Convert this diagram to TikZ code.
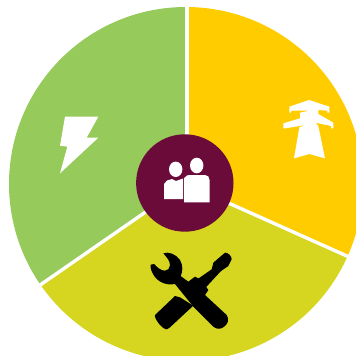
\documentclass[tikz,border=0pt]{standalone}
\definecolor{pgreen}{HTML}{96CA5A}
\definecolor{pyellow}{HTML}{FFCC00}
\definecolor{plime}{HTML}{D6D621}
\definecolor{pmaroon}{HTML}{6B0B3A}
\tikzset{spoke/.style={draw=white,line width=3.4pt},icon/.style={fill=white,draw=none},tool/.style={fill=black,draw=none},zoomed/.style={x=0.33333pt,y=-0.33333pt}}
\begin{document}
\begin{tikzpicture}[x=1pt,y=-1pt]
\useasboundingbox (0,0) rectangle (356,356);
\begin{scope}
\clip (0,0) rectangle (356,356);
\coordinate (c) at (186,184);
\def\rr{177}
\fill[pgreen] (c) -- ++(-90:\rr) arc[start angle=-90,end angle=-214.7,radius=\rr] -- cycle;
\fill[pyellow] (c) -- ++(-90:\rr) arc[start angle=-90,end angle=24.1,radius=\rr] -- cycle;
\fill[plime] (c) -- ++(24.1:\rr) arc[start angle=24.1,end angle=145.3,radius=\rr] -- cycle;
\draw[spoke] (187,184) -- (187,0);
\draw[spoke] (c) -- ++(24.1:182);
\draw[spoke] (c) -- ++(145.3:182);
\fill[pmaroon] (184.8,183) circle[radius=48.7];
% people
\fill[icon] (175.7,169.3) ellipse[x radius=6.7,y radius=7.7];
\fill[icon] (196.7,165.5) ellipse[x radius=6.7,y radius=7.8];
\fill[icon] (164,199) -- (164,184) -- (167,180.5) -- (172,179) -- (176,181) -- (183,178.5) -- (183,199) -- cycle;
\fill[icon] (184.2,202.3) -- (184.2,178) .. controls (186,175.2) and (188,175) .. (190,175) -- (205,175) .. controls (208,175) and (209.5,177) .. (209.5,180) -- (209.5,202.3) -- cycle;
% lightning
\begin{scope}[shift={(50,105)},zoomed]
\fill[icon] (45,35) -- (145,35) -- (110,98) -- (145,98) -- (30,205) -- (52,125) -- (30,122) -- cycle;
\end{scope}
% pylon
\begin{scope}[shift={(270,90)},zoomed]
\fill[icon] (117,30) -- (178,50) -- (178,68) -- (172,68) -- (172,62) -- (145,60) -- (145,72) -- (190,98) -- (190,115) -- (183,115) -- (183,108) -- (137,98) -- (145,108) -- (165,205) -- (118,192) -- (72,205) -- (88,112) -- (108,105) -- (46,115) -- (40,115) -- (40,100) -- (90,85) -- (90,68) -- (118,62) -- (65,62) -- (62,68) -- (58,68) -- (58,50) -- cycle;
\end{scope}
% tools
\begin{scope}[shift={(130,240)},zoomed]
\fill[tool] (135,168) -- (75,225) .. controls (72,232) and (90,262) .. (108,268) .. controls (112,268) and (115,266) .. (120,262) -- (190,197) -- (150,172) -- cycle;
\fill[tool] (170,140) -- (245,88) -- (250,68) -- (285,38) .. controls (295,38) and (305,48) .. (305,58) -- (295,78) -- (272,94) -- (225,145) -- (190,190) -- cycle;
\fill[tool] (100,40) .. controls (115,34) and (138,42) .. (150,60) .. controls (160,78) and (158,95) .. (152,108) -- (175,125) -- (195,110) -- (215,120) -- (235,150) -- (225,165) -- (290,225) .. controls (298,238) and (295,252) .. (280,262) .. controls (270,268) and (260,268) .. (250,260) -- (190,200) -- (135,132) .. controls (110,137) and (85,127) .. (72,107) .. controls (65,95) and (60,85) .. (62,74) -- (72,72) .. controls (82,82) and (92,92) .. (105,92) .. controls (113,92) and (119,85) .. (120,76) .. controls (120,62) and (110,52) .. cycle;
\end{scope}
\end{scope}
\end{tikzpicture}
\end{document}
